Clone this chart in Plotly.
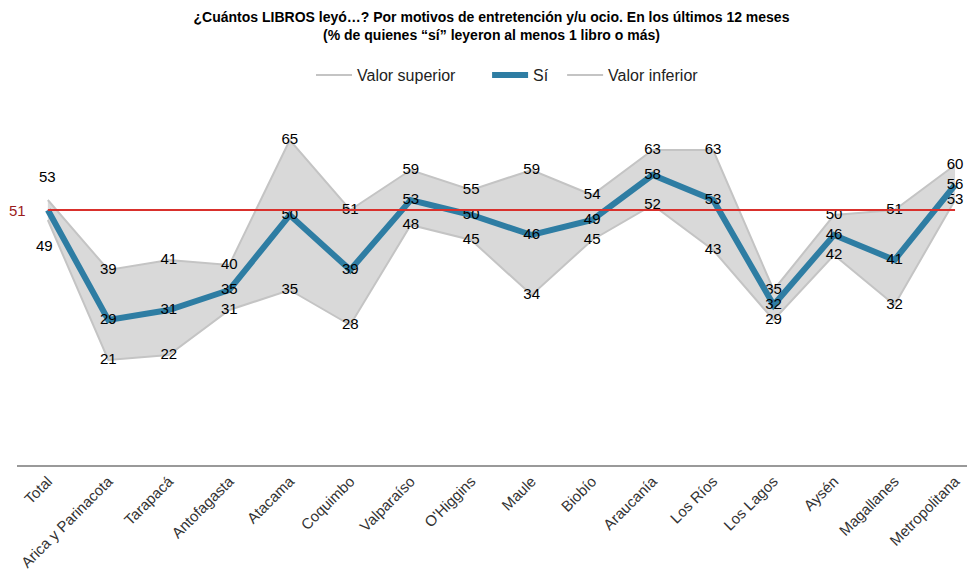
import plotly.graph_objects as go

# data
regiones = ["Total", "Arica y Parinacota", "Tarapacá", "Antofagasta", "Atacama",
            "Coquimbo", "Valparaíso", "O'Higgins", "Maule", "Biobío", "Araucanía",
            "Los Ríos", "Los Lagos", "Aysén", "Magallanes", "Metropolitana"]
valor_superior = [53, 39, 41, 40, 65, 51, 59, 55, 59, 54, 63, 63, 35, 50, 51, 60]
si = [51, 29, 31, 35, 50, 39, 53, 50, 46, 49, 58, 53, 32, 46, 41, 56]
valor_inferior = [49, 21, 22, 31, 35, 28, 48, 45, 34, 45, 52, 43, 29, 42, 32, 53]
promedio = 51

FONT = "Liberation Sans, Arial, sans-serif"
label_font = dict(family=FONT, size=15, color="black")

# Total labels go in annotations (further away from the point), the rest centered on the point
def etiquetas(vals):
    return [""] + [str(v) for v in vals[1:]]

data = []

# grey band between upper and lower
data.append(go.Scatter(
    x=regiones + regiones[::-1], y=valor_superior + valor_inferior[::-1],
    fill="toself", fillcolor="#d9d9d9", line=dict(width=0),
    mode="lines", showlegend=False, hoverinfo="skip"
))

data.append(go.Scatter(
    x=regiones, y=valor_superior, name="Valor superior      ",
    mode="lines+text", text=etiquetas(valor_superior), textposition="middle center",
    textfont=label_font, line=dict(color="#c4c4c4", width=2), legendrank=1
))
data.append(go.Scatter(
    x=regiones, y=valor_inferior, name="Valor inferior",
    mode="lines+text", text=etiquetas(valor_inferior), textposition="middle center",
    textfont=label_font, line=dict(color="#c4c4c4", width=2), legendrank=3
))

# Sí labels (Total label shown on the left in red instead)
data.append(go.Scatter(
    x=regiones, y=si, name="Sí  ",
    mode="lines+text", text=etiquetas(si), textposition="middle center",
    textfont=label_font, line=dict(color="#2e7da3", width=6), legendrank=2
))

annotations = [
    dict(x=regiones[0], xref="x", y=promedio, yref="y", text=str(promedio),
         showarrow=False, xanchor="right", xshift=-20,
         font=dict(family=FONT, size=15, color="#9b1c1c")),
    dict(x=regiones[0], xref="x", y=valor_superior[0], yref="y", text=str(valor_superior[0]),
         showarrow=False, yshift=24, font=label_font),
    dict(x=regiones[0], xref="x", y=valor_inferior[0], yref="y", text=str(valor_inferior[0]),
         showarrow=False, yshift=-25, xshift=-3, font=label_font),
]

# page has an 8px body margin, so the figure is drawn 8px smaller
layout = go.Layout(
    width=967, height=568,
    margin=dict(l=9, r=0, t=92, b=111),
    plot_bgcolor="white", paper_bgcolor="white",
    font=dict(family=FONT, color="#222"),
    title=dict(
        text="<b>¿Cuántos LIBROS leyó…? Por motivos de entretención y/u ocio. En los últimos 12 meses"
             "<br>(% de quienes “sí” leyeron al menos 1 libro o más)</b>",
        x=0.5, xanchor="center", y=0.976, yanchor="top",
        font=dict(family=FONT, size=14, color="black")
    ),
    legend=dict(orientation="h", x=0.512, xanchor="center", y=1.068, yanchor="middle",
                font=dict(family=FONT, size=16, color="#222"), itemwidth=36),
    xaxis=dict(type="category", range=[-0.51, 15.33], tickangle=-45, automargin=False,
               showgrid=False, showline=True, linecolor="#999", linewidth=1.5,
               ticks="", tickfont=dict(family=FONT, size=15, color="#333")),
    yaxis=dict(range=[0, 73], visible=False, showgrid=False, automargin=False),
    shapes=[dict(type="line", xref="x", yref="y", x0=regiones[0], x1=regiones[-1],
                 y0=promedio, y1=promedio, line=dict(color="#d9302c", width=2), layer="above")],
    annotations=annotations,
)

fig = go.Figure(data=data, layout=layout)
fig.write_html("out.html")
